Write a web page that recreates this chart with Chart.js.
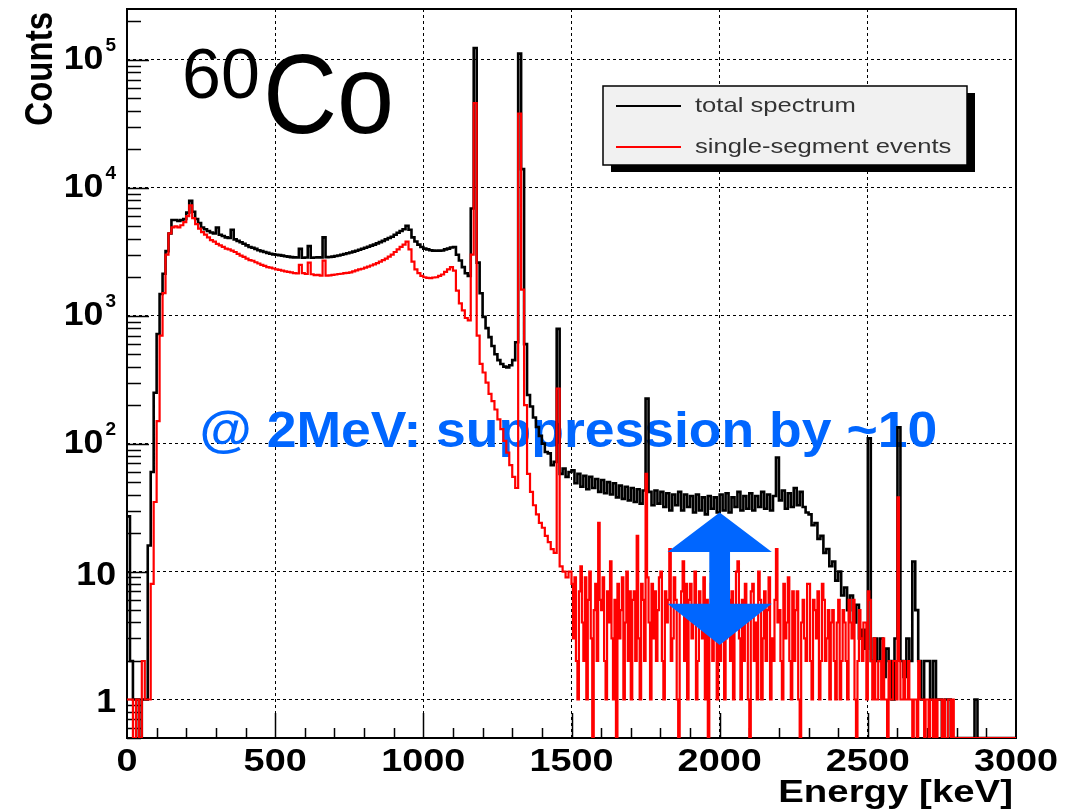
<!DOCTYPE html>
<html>
<head>
<meta charset="utf-8">
<title>60Co spectrum</title>
<script src="https://cdn.jsdelivr.net/npm/chart.js@4.4.1/dist/chart.umd.min.js"></script>
<style>
  html, body { margin: 0; padding: 0; background: #fff; }
  #wrap { position: relative; width: 1077px; height: 810px; }
</style>
</head>
<body>
<div id="wrap"><canvas id="spectrum"></canvas></div>
<script>
// total spectrum: 10 keV bins from 0 to 3000 keV, 10 values per 100 keV
const totalCounts = [
  27, 2, 1, 1, 0, 1, 1, 16, 60, 250,
  720, 1480, 2130, 3200, 4400, 5600, 5600, 5500, 5600, 5700,
  6400, 7900, 6500, 5700, 5300, 4900, 4750, 4600, 4470, 4400,
  4900, 4300, 4200, 4100, 4050, 4700, 3950, 3850, 3750, 3650,
  3550, 3450, 3400, 3330, 3250, 3200, 3150, 3100, 3050, 3020,
  3000, 2980, 2950, 2920, 2900, 2870, 2860, 2850, 3330, 2840,
  2850, 3500, 2840, 2850, 2860, 2850, 4100, 2870, 2880, 2900,
  2930, 2960, 3000, 3040, 3080, 3120, 3170, 3220, 3280, 3340,
  3400, 3460, 3530, 3600, 3680, 3760, 3850, 3950, 4050, 4150,
  4300, 4450, 4600, 4750, 5050, 4700, 4100, 3800, 3600, 3450,
  3350, 3300, 3250, 3230, 3220, 3230, 3240, 3300, 3350, 3420,
  3450, 3000, 2700, 2400, 2150, 2050, 6900, 124000, 2600, 1500,
  980, 800, 680, 580, 500, 450, 420, 400, 395, 410,
  450, 620, 112000, 14000, 600, 240, 195, 160, 135, 115,
  100, 86, 84, 68, 72, 790, 58, 64, 55, 60,
  62, 49, 58, 46, 56, 44, 55, 45, 53, 42,
  52, 41, 50, 40, 49, 38, 47, 37, 46, 36,
  45, 35, 44, 34, 43, 225, 42, 33, 43, 34,
  42, 32, 41, 30, 40, 33, 42, 30, 40, 32,
  39, 29, 40, 30, 38, 28, 39, 31, 38, 29,
  40, 30, 41, 29, 38, 32, 42, 30, 39, 31,
  41, 30, 39, 32, 42, 31, 40, 30, 39, 78,
  36, 43, 31, 41, 32, 45, 33, 42, 32, 29,
  28, 23, 24, 18, 19, 14, 15, 11, 12, 8.5,
  10, 6.5, 7.5, 5, 6.5, 4, 5.5, 3, 3.5, 2.5,
  110, 2, 3, 2, 3, 1.5, 2.5, 2, 1, 3,
  134, 2, 1.5, 3, 2, 12, 5, 2, 1, 2,
  2, 1, 2, 1, 1, 0, 1, 1, 0, 0,
  0, 0, 0, 0, 0, 0, 1, 0, 0, 0,
  0, 0, 0, 0, 0, 0, 0, 0, 0, 0
];

// single-segment events: 10 keV bins from 0 to 1500 keV
const singleCounts = [
  1, 1, 0, 1, 0, 2, 1, 1, 8, 35,
  150, 700, 1500, 3000, 4400, 4900, 5000, 4900, 5100, 5400,
  6000, 7300, 5800, 5200, 4800, 4500, 4300, 4100, 3900, 3800,
  3650, 3550, 3450, 3350, 3300, 3230, 3150, 3050, 2950, 2880,
  2800, 2720, 2690, 2620, 2560, 2500, 2450, 2400, 2380, 2340,
  2300, 2280, 2250, 2220, 2200, 2180, 2150, 2140, 2500, 2150,
  2120, 2600, 2110, 2080, 2090, 2060, 2700, 2060, 2070, 2090,
  2100, 2120, 2130, 2150, 2160, 2180, 2220, 2260, 2300, 2330,
  2380, 2420, 2470, 2520, 2580, 2650, 2720, 2800, 2900, 3000,
  3150, 3300, 3450, 3600, 3800, 3300, 2650, 2300, 2150, 2050,
  2000, 1980, 1970, 1990, 2000, 2050, 2100, 2200, 2300, 2400,
  2250, 1570, 1250, 1100, 960, 920, 3000, 46000, 700, 420,
  360, 300, 245, 215, 185, 155, 130, 105, 85, 68,
  55, 45, 38000, 1600, 200, 58, 42, 33, 28, 24,
  22, 19, 17, 15, 14, 270, 11, 10, 9, 10
];

// single-segment events above 1500 keV: finer 5 keV bins, 20 values per 100 keV
const singleTail = [
  8, 3, 9, 2, 1, 7, 11, 4, 2, 9, 1, 6, 10, 3, 0, 5, 8, 2, 24, 6,
  5, 9, 2, 1, 7, 4, 12, 3, 1, 6, 0, 8, 3, 5, 9, 1, 4, 10, 2, 7,
  1, 6, 7, 2, 19, 3, 1, 8, 6, 2, 58, 9, 4, 1, 8, 3, 7, 2, 5, 9,
  10, 2, 1, 7, 4, 6, 15, 2, 3, 9, 6, 1, 0, 5, 7, 12, 2, 8, 1, 6,
  8, 3, 4, 10, 1, 2, 7, 5, 3, 9, 1, 6, 0, 4, 8, 2, 11, 5, 1, 7,
  2, 8, 5, 1, 3, 9, 6, 2, 7, 1, 4, 10, 12, 3, 1, 6, 2, 8, 5, 1,
  0, 7, 8, 2, 4, 1, 10, 6, 1, 3, 7, 2, 5, 9, 1, 3, 2, 6, 15, 4,
  5, 2, 1, 8, 3, 4, 9, 2, 1, 7, 2, 5, 7, 1, 0, 4, 6, 3, 2, 8,
  8, 2, 1, 6, 5, 3, 7, 1, 2, 8, 6, 2, 3, 5, 1, 4, 5, 2, 1, 4,
  6, 1, 2, 5, 4, 2, 1, 6, 4, 3, 6, 1, 0, 2, 5, 3, 2, 4, 4, 1,
  7, 6, 2, 1, 3, 1, 1, 2, 2, 1, 3, 1, 1, 0, 2, 1, 1, 2, 2, 1,
  38, 2, 1, 1, 2, 1, 1, 2, 1, 1, 0, 1, 1, 0, 2, 1, 1, 1, 0, 1,
  1, 0, 1, 1, 0, 1, 0, 1, 1, 1, 0, 1, 0, 0, 1, 1, 0, 1, 0, 0,
  0, 0, 0, 0, 0, 0, 0, 0, 0, 0, 0, 0, 0, 0, 0, 0, 0, 0, 0, 0,
  0, 0, 0, 0, 0, 0, 0, 0, 0, 0, 0, 0, 0, 0, 0, 0, 0, 0, 0, 0
];

const seriesLabels = ['total spectrum', 'single-segment events'];
const xTickValues = [0, 500, 1000, 1500, 2000, 2500, 3000];
const yTickValues = [1, 10, 100, 1000, 10000, 100000];
const yTickBase = ['1', '10', '10', '10', '10', '10'];
const yTickExp = ['', '', '2', '3', '4', '5'];

const X_MIN = 0, X_MAX = 3000;
const Y_MIN = 0.5, Y_MAX = 2.5e5;

const FONT = '"Liberation Sans", Arial, Helvetica, sans-serif';
const BLUE = '#0066ff';

// parts: [first bin low edge, bin width, counts]; empty bins sit on the frame bottom like in ROOT
function histPoints(parts) {
  const pts = [];
  let end = 0;
  parts.forEach(([start, width, counts]) => {
    counts.forEach((c, i) => pts.push({ x: start + i * width, y: c > 0 ? c : Y_MIN }));
    end = start + counts.length * width;
  });
  pts.push({ x: end, y: pts[pts.length - 1].y });
  return pts;
}

function wideText(ctx, text, x, y, sx, align) {
  ctx.save();
  ctx.translate(x, y);
  ctx.scale(sx, 1);
  ctx.textAlign = align;
  ctx.fillText(text, 0, 0);
  ctx.restore();
}

const decorations = {
  id: 'decorations',
  beforeDraw(chart) {
    const ctx = chart.ctx;
    ctx.save();
    ctx.fillStyle = '#fff';
    ctx.fillRect(0, 0, chart.width, chart.height);
    ctx.restore();
  },
  beforeDatasetsDraw(chart) {
    const { ctx, chartArea: a, scales: { x, y } } = chart;
    ctx.save();

    // annotation text sits behind the histograms
    ctx.fillStyle = BLUE;
    ctx.font = 'bold 50px ' + FONT;
    ctx.textBaseline = 'alphabetic';
    wideText(ctx, '@ 2MeV: suppression by ~10', x.getPixelForValue(245), y.getPixelForValue(94), 1.07, 'left');

    // frame
    ctx.strokeStyle = '#000';
    ctx.lineWidth = 2;
    ctx.strokeRect(a.left, a.top, a.right - a.left, a.bottom - a.top);

    // inner tick marks on the log axis
    ctx.lineWidth = 1.5;
    ctx.beginPath();
    for (let d = -1; d <= 5; d++) {
      for (let m = 1; m <= 9; m++) {
        const v = m * Math.pow(10, d);
        if (v < Y_MIN || v > Y_MAX) continue;
        const py = Math.round(y.getPixelForValue(v)) + 0.5;
        const len = m === 1 ? 22 : 14;
        ctx.moveTo(a.left, py);
        ctx.lineTo(a.left + len, py);
      }
    }
    // inner tick marks on the energy axis
    for (let e = 100; e < X_MAX; e += 100) {
      const px = Math.round(x.getPixelForValue(e)) + 0.5;
      const len = e % 500 === 0 ? 25 : 10;
      ctx.moveTo(px, a.bottom);
      ctx.lineTo(px, a.bottom - len);
    }
    ctx.stroke();
    ctx.restore();
  },
  afterDatasetsDraw(chart) {
    const { ctx, chartArea: a, scales: { x, y } } = chart;
    ctx.save();

    // double arrow at 2 MeV
    const xc = x.getPixelForValue(2000);
    const shaft = x.getPixelForValue(2035) - xc;
    const head = x.getPixelForValue(2176) - xc;
    const tip = y.getPixelForValue(29);
    const headTop = y.getPixelForValue(14.2);
    const headBot = y.getPixelForValue(5.6);
    const tail = y.getPixelForValue(2.67);
    ctx.fillStyle = BLUE;
    ctx.beginPath();
    ctx.moveTo(xc, tip);
    ctx.lineTo(xc + head, headTop);
    ctx.lineTo(xc + shaft, headTop);
    ctx.lineTo(xc + shaft, headBot);
    ctx.lineTo(xc + head, headBot);
    ctx.lineTo(xc, tail);
    ctx.lineTo(xc - head, headBot);
    ctx.lineTo(xc - shaft, headBot);
    ctx.lineTo(xc - shaft, headTop);
    ctx.lineTo(xc - head, headTop);
    ctx.closePath();
    ctx.fill();

    // isotope label
    ctx.fillStyle = '#000';
    ctx.textBaseline = 'alphabetic';
    ctx.font = '70px ' + FONT;
    wideText(ctx, '60', x.getPixelForValue(186), y.getPixelForValue(5.0e4), 1.0, 'left');
    ctx.font = '114px ' + FONT;
    wideText(ctx, 'Co', x.getPixelForValue(459), y.getPixelForValue(2.7e4), 0.9, 'left');

    // legend box with drop shadow
    const lx = a.left + 476, ly = a.top + 77, lw = 364, lh = 79;
    ctx.fillStyle = '#000';
    ctx.fillRect(lx + 8, ly + 7, lw, lh);
    ctx.fillStyle = '#f1f1f1';
    ctx.fillRect(lx, ly, lw, lh);
    ctx.strokeStyle = '#000';
    ctx.lineWidth = 1.5;
    ctx.strokeRect(lx, ly, lw, lh);
    const colors = ['#000', '#ff0000'];
    const rows = [20, 61];
    ctx.font = '21px ' + FONT;
    for (let i = 0; i < 2; i++) {
      ctx.strokeStyle = colors[i];
      ctx.lineWidth = 2;
      ctx.beginPath();
      ctx.moveTo(lx + 13, ly + rows[i]);
      ctx.lineTo(lx + 78, ly + rows[i]);
      ctx.stroke();
      ctx.fillStyle = '#333';
      wideText(ctx, seriesLabels[i], lx + 92, ly + rows[i] + 6, 1.22, 'left');
    }
    ctx.restore();
  },
  afterDraw(chart) {
    const { ctx, chartArea: a, scales: { x, y } } = chart;
    ctx.save();
    ctx.fillStyle = '#000';
    ctx.textBaseline = 'alphabetic';

    // energy tick labels
    ctx.font = 'bold 31px ' + FONT;
    xTickValues.forEach(v => {
      wideText(ctx, String(v), x.getPixelForValue(v), a.bottom + 33, 1.22, 'center');
    });

    // count tick labels, powers of ten with raised exponent
    yTickValues.forEach((v, i) => {
      const py = y.getPixelForValue(v);
      const right = a.left - 11;
      if (yTickExp[i]) {
        ctx.font = 'bold 19px ' + FONT;
        const ew = ctx.measureText(yTickExp[i]).width;
        wideText(ctx, yTickExp[i], right, py - 9, 1.0, 'right');
        ctx.font = 'bold 34px ' + FONT;
        wideText(ctx, yTickBase[i], right - ew - 2, py + 9, 1.05, 'right');
      } else {
        ctx.font = 'bold 34px ' + FONT;
        wideText(ctx, yTickBase[i], right, py + 13, 1.05, 'right');
      }
    });

    // axis titles
    ctx.font = 'bold 32px ' + FONT;
    wideText(ctx, 'Energy [keV]', a.right - 3, a.bottom + 64, 1.2, 'right');

    ctx.translate(52, a.top + 3);
    ctx.rotate(-Math.PI / 2);
    ctx.scale(1, 1.2);
    ctx.font = 'bold 33px ' + FONT;
    ctx.textAlign = 'right';
    ctx.fillText('Counts', 0, 0);
    ctx.restore();
  }
};

new Chart(document.getElementById('spectrum'), {
  type: 'line',
  data: {
    datasets: [
      {
        label: seriesLabels[0],
        data: histPoints([[0, 10, totalCounts]]),
        borderColor: '#000',
        borderWidth: 2.6,
        stepped: true,
        pointRadius: 0,
        fill: false,
        order: 2
      },
      {
        label: seriesLabels[1],
        data: histPoints([[0, 10, singleCounts], [1500, 5, singleTail]]),
        borderColor: '#ff0000',
        borderWidth: 2.2,
        stepped: true,
        pointRadius: 0,
        fill: false,
        order: 1 // drawn over the total spectrum
      }
    ]
  },
  options: {
    responsive: true,
    maintainAspectRatio: false,
    devicePixelRatio: 1,
    animation: false,
    layout: { autoPadding: false, padding: { top: 9, right: 61, left: 0, bottom: 0 } },
    plugins: {
      legend: { display: false },
      tooltip: { enabled: false }
    },
    scales: {
      x: {
        type: 'linear',
        min: X_MIN,
        max: X_MAX,
        ticks: { stepSize: 500, display: false },
        grid: { color: '#000', lineWidth: 1, drawTicks: false },
        border: { display: false, dash: [3, 3] },
        afterFit: s => { s.height = 72; }
      },
      y: {
        type: 'logarithmic',
        min: Y_MIN,
        max: Y_MAX,
        ticks: { display: false },
        afterBuildTicks: s => { s.ticks = yTickValues.map(v => ({ value: v })); },
        grid: { color: '#000', lineWidth: 1, drawTicks: false },
        border: { display: false, dash: [3, 3] },
        afterFit: s => { s.width = 127; }
      }
    }
  },
  plugins: [decorations]
});
</script>
</body>
</html>
